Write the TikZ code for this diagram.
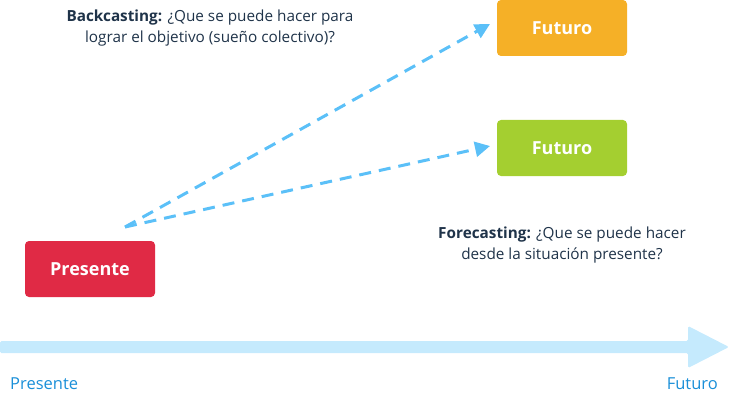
\documentclass[tikz,border=0pt]{standalone}
\usepackage{fontspec}
\setmainfont{Open Sans}
\usetikzlibrary{arrows.meta}
\definecolor{cOrange}{HTML}{F5B027}
\definecolor{cGreen}{HTML}{A4CF30}
\definecolor{cRed}{HTML}{E02A45}
\definecolor{cDash}{HTML}{5BC0F8}
\definecolor{cAxis}{HTML}{C5EAFD}
\definecolor{cAxisTxt}{HTML}{1A8FD8}
\definecolor{cText}{HTML}{1F3349}
\begin{document}
\begin{tikzpicture}[x=1pt,y=-1pt,
  box/.style={rounded corners=4pt, minimum width=130pt, minimum height=56pt, inner sep=0pt, text=white, font=\fontsize{18}{21}\selectfont\bfseries},
  dasharrow/.style={cDash, line width=3pt, dash pattern=on 12pt off 8pt, -{Triangle[length=15pt,width=15pt]}},
  note/.style={text=cText, align=center, font=\fontsize{15.3}{21}\selectfont, inner sep=0pt},
  axlabel/.style={text=cAxisTxt, font=\fontsize{16.5}{18}\selectfont, inner sep=0pt}]
\useasboundingbox (0,0) rectangle (729,412);
\node[box, fill=cOrange] (f1) at (562,28) {Futuro};
\node[box, fill=cGreen] (f2) at (562,148) {Futuro};
\node[box, fill=cRed] (p) at (90,269) {Presente};
\coordinate (s) at (125,227);
\draw[dasharrow] (s) -- (490,24);
\draw[dasharrow] (s) -- (490,146);
\node[note] (bk) at (210,28) {\textbf{Backcasting:} ¿Que se puede hacer para\\ lograr el objetivo (sueño colectivo)?};
\node[note] (fc) at (562,245) {\textbf{Forecasting:} ¿Que se puede hacer\\ desde la situación presente?};
\fill[cAxis, rounded corners=1.5pt] (0,341) -- (688,341) -- (688,326) -- (729,347) -- (688,368) -- (688,353) -- (0,353) -- cycle;
\node[axlabel, anchor=west] (lp) at (10,384) {Presente};
\node[axlabel, anchor=east] (lf) at (718,384) {Futuro};
\end{tikzpicture}
\end{document}
